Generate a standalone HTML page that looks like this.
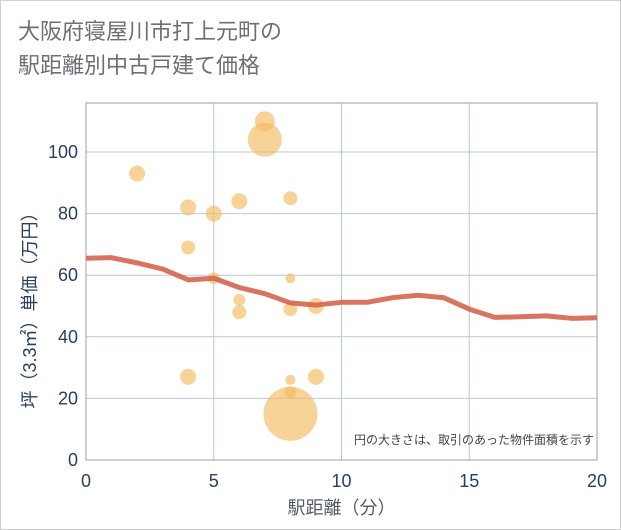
<!DOCTYPE html>
<html><head><meta charset="utf-8"><style>
body{margin:0;background:#fff}
#wrap{position:relative;width:619px;height:528px;border:1px solid #d0d0d0;background:#fff;font-family:"Liberation Sans","Noto Sans CJK JP",sans-serif}
#title{position:absolute;left:17px;top:14px;font-size:22px;line-height:34px;color:#6b6f76}
svg{position:absolute;left:-1px;top:-1px}
</style></head><body>
<div id="wrap">
<div id="title">大阪府寝屋川市打上元町の<br>駅距離別中古戸建て価格</div>
<svg id="chart" width="621" height="530"></svg>
</div>
<script>
const xTicks=[0,5,10,15,20];
const yTicks=[0,20,40,60,80,100];
const bubbleX=[2,4,4,4,5,5,6,6,6,7,7,8,8,8,8,8,8,9,9];
const bubbleY=[93,82,69,27,80,59,84,52,48,110,104,85,59,49,26,22,15,50,27];
const bubbleR=[8,8,7,8,8,6,8,6,7,10,17,7,5,7,5,6,27,8,8];
const lineX=[0,1,2,3,4,5,6,7,8,9,10,11,12,13,14,15,16,17,18,19,20];
const lineY=[65.5,65.7,64,62,58.5,59,56,54,51,50.3,51.2,51.2,52.7,53.5,52.7,49,46.3,46.5,46.8,46,46.2];
const NS='http://www.w3.org/2000/svg';
const svg=document.getElementById('chart');
const X0=86,X1=597,Y0=460,YT=103;
const sx=v=>X0+(X1-X0)*v/20;
const sy=v=>Y0-(Y0-152)*v/100;
function mk(t,a){const e=document.createElementNS(NS,t);for(const k in a)e.setAttribute(k,a[k]);svg.appendChild(e);return e;}
for(const t of xTicks){
 const g=mk('line',{x1:sx(t),x2:sx(t),y1:YT,y2:Y0,stroke:'#b8c8da','stroke-width':1});
 
 
 const l=mk('text',{x:sx(t),y:487,'text-anchor':'middle','font-size':18,fill:'#2a3f5f'});
 l.textContent=t;
 
 
}
for(const t of yTicks){
 const g=mk('line',{x1:X0,x2:X1,y1:sy(t),y2:sy(t),stroke:'#b8c8da','stroke-width':1});
 
 
 const l=mk('text',{x:78,y:sy(t)+6,'text-anchor':'end','font-size':18,fill:'#2a3f5f'});
 l.textContent=t;
 
 
}
const fr=mk('rect',{x:X0,y:YT,width:X1-X0,height:Y0-YT,fill:'none',stroke:'#9aa0a6','stroke-width':1});


bubbleX.forEach((v,i)=>{
 const c=mk('circle',{cx:sx(v),cy:sy(bubbleY[i]),r:bubbleR[i],fill:'#f3bb5f','fill-opacity':0.65});
 
 
});
const p=mk('polyline',{points:lineX.map((v,i)=>sx(v)+','+sy(lineY[i])).join(' '),fill:'none',stroke:'#d4654f','stroke-width':5,'stroke-opacity':0.9,'stroke-linejoin':'round'});


const note=mk('text',{x:594,y:444,'text-anchor':'end','font-size':12,fill:'#444'});
note.textContent='円の大きさは、取引のあった物件面積を示す';


const xt=mk('text',{x:sx(10),y:514,'text-anchor':'middle','font-size':18,fill:'#555b66'});
xt.textContent='駅距離（分）';


const yt=mk('text',{x:0,y:0,'text-anchor':'middle','font-size':18,fill:'#2a3f5f',transform:'translate(36,'+sy(50)+') rotate(-90)'});
yt.textContent='坪（3.3㎡）単価（万円）';


</script>
</body></html>
